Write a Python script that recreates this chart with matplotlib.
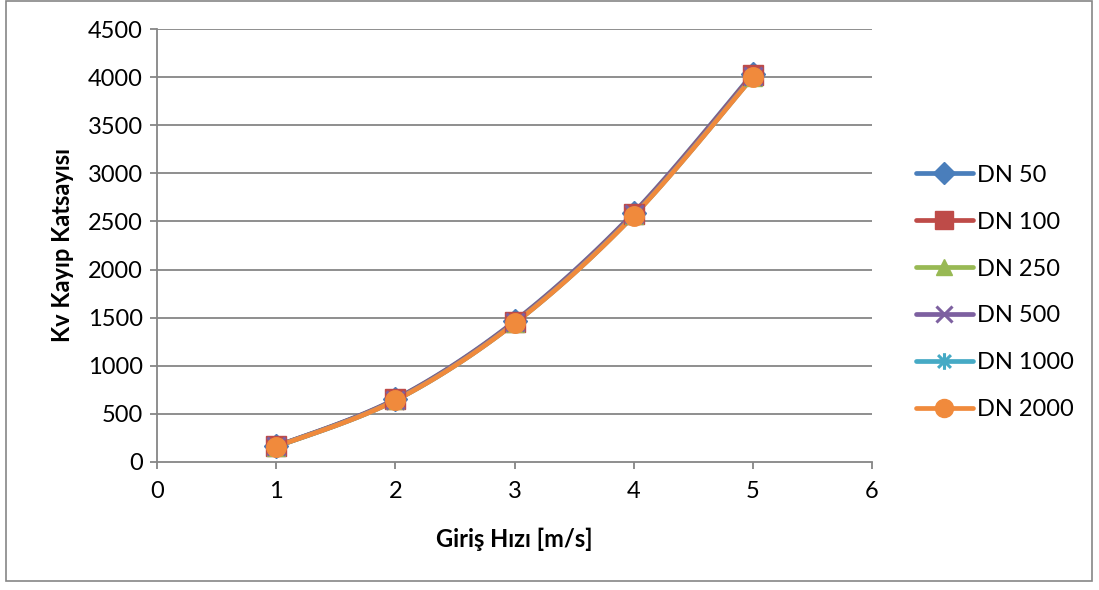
import numpy as np
import matplotlib
matplotlib.use("Agg")
import matplotlib.pyplot as plt
from matplotlib.patches import Rectangle
from matplotlib.path import Path

plt.rcParams['font.family'] = ['Lato', 'DejaVu Sans']

# Inlet velocity [m/s]
velocity = [1, 2, 3, 4, 5]

# Kv loss coefficient for each nominal diameter
dn50 = [164, 654, 1462, 2590, 4035]
dn100 = [163, 650, 1455, 2582, 4025]
dn250 = [160, 642, 1443, 2565, 4005]
dn500 = [162, 646, 1450, 2575, 4015]
dn1000 = [160, 641, 1442, 2563, 4003]
dn2000 = [160, 640, 1440, 2560, 4000]

series_names = ["DN 50", "DN 100", "DN 250", "DN 500", "DN 1000", "DN 2000"]
series_values = [dn50, dn100, dn250, dn500, dn1000, dn2000]

x_ticks = [0, 1, 2, 3, 4, 5, 6]
y_ticks = [0, 500, 1000, 1500, 2000, 2500, 3000, 3500, 4000, 4500]

colors = ["#4A7EBB", "#BE4B48", "#98B954", "#7D60A0", "#46AAC5", "#F08A3C"]

# six-spoke star marker (x with a vertical bar)
star_verts = [(-1, -1), (1, 1), (-1, 1), (1, -1), (0, -1.3), (0, 1.3)]
star_codes = [Path.MOVETO, Path.LINETO] * 3
star_marker = Path(star_verts, star_codes)

markers = ["D", "s", "^", "x", star_marker, "o"]
msizes = [12, 14.5, 13, 13, 13, 14]
legend_msizes = [11, 13, 12, 12, 12, 13]


def smooth(xs, ys, n=30):
    """Catmull-Rom style smoothing through the data points."""
    xs = np.asarray(xs, float)
    ys = np.asarray(ys, float)
    px = np.concatenate([[xs[0]], xs, [xs[-1]]])
    py = np.concatenate([[ys[0]], ys, [ys[-1]]])
    out_x, out_y = [], []
    for i in range(1, len(px) - 2):
        p0 = np.array([px[i - 1], py[i - 1]])
        p1 = np.array([px[i], py[i]])
        p2 = np.array([px[i + 1], py[i + 1]])
        p3 = np.array([px[i + 2], py[i + 2]])
        c1 = p1 + (p2 - p0) / 6.0
        c2 = p2 - (p3 - p1) / 6.0
        t = np.linspace(0, 1, n)[:, None]
        pts = ((1 - t) ** 3) * p1 + 3 * ((1 - t) ** 2) * t * c1 + 3 * (1 - t) * t ** 2 * c2 + t ** 3 * p2
        out_x.extend(pts[:, 0])
        out_y.extend(pts[:, 1])
    return np.array(out_x), np.array(out_y)


fig = plt.figure(figsize=(10.99, 5.90), dpi=100)
fig.patch.set_facecolor("white")

# outer chart border
fig.patches.append(Rectangle((6 / 1099, 9 / 590), 1086 / 1099, 580 / 590,
                             transform=fig.transFigure, fill=False,
                             edgecolor="#868686", linewidth=1.2))

ax = fig.add_axes([157 / 1099, 1 - 462 / 590, 715 / 1099, 433 / 590])

grid_color = "#868686"
for yv in y_ticks[1:]:
    ax.axhline(yv, color=grid_color, linewidth=1.3, zorder=1)

handles = []
for name, vals, c, m, ms, lms in zip(series_names, series_values, colors,
                                     markers, msizes, legend_msizes):
    sx, sy = smooth(velocity, vals)
    ax.plot(sx, sy, color=c, linewidth=3.4, solid_capstyle="round", zorder=3)
    mew = 2.2 if m in ("x",) or m is star_marker else 1.0
    ax.plot(velocity, vals, linestyle="none", marker=m, markersize=ms,
            color=c, markeredgecolor=c, markeredgewidth=mew, zorder=4)
    h, = ax.plot([], [], color=c, linewidth=3.4, solid_capstyle="round",
                 marker=m, markersize=lms, markeredgecolor=c, markeredgewidth=mew)
    handles.append(h)

ax.set_xlim(0, 6)
ax.set_ylim(0, 4500)
ax.set_xticks(x_ticks)
ax.set_yticks(y_ticks)
ax.tick_params(axis="both", labelsize=17, length=5, width=1.3, color=grid_color,
               direction="out", labelcolor="black")
ax.tick_params(axis="y", pad=5)
ax.tick_params(axis="x", pad=9)
for side in ("top", "right"):
    ax.spines[side].set_visible(False)
for side in ("left", "bottom"):
    ax.spines[side].set_color(grid_color)
    ax.spines[side].set_linewidth(1.3)

ax.set_xlabel("Giriş Hızı [m/s]", fontsize=17, fontweight="bold", labelpad=18)
ax.set_ylabel("Kv Kayıp Katsayısı", fontsize=17, fontweight="bold", labelpad=10)

fig.legend(handles, series_names, loc="center left",
           bbox_to_anchor=(916 / 1099, 1 - 292.5 / 590), frameon=False,
           fontsize=17, handlelength=2.4, handletextpad=0.2,
           labelspacing=1.1, borderpad=0, borderaxespad=0, numpoints=1)

fig.savefig("out.png", dpi=100)
